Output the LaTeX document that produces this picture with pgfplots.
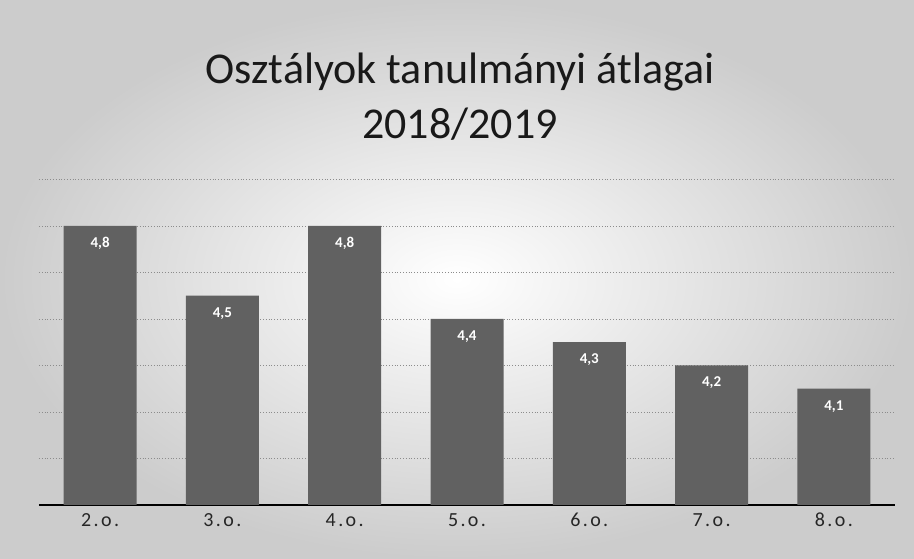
\documentclass[border=0pt]{standalone}
\usepackage{pgfplots}
\pgfplotsset{compat=1.18}
\usepackage{fontspec}
\setmainfont{Carlito}
\begin{document}
\begin{tikzpicture}[x=1pt,y=1pt]
\shade[inner color=white, outer color=black!20] (0,0) rectangle (914,559);
\begin{axis}[
  at={(39pt,54pt)}, anchor=south west,
  scale only axis, width=856pt, height=325.5pt,
  ymin=3.6, ymax=5.0, xmin=-0.5, xmax=6.5,
  ybar, bar width=73pt,
  xtick=data,
  xticklabels={2.o.,3.o.,4.o.,5.o.,6.o.,7.o.,8.o.},
  ytick={3.6,3.8,4.0,4.2,4.4,4.6,4.8,5.0},
  yticklabels={},
  ymajorgrids, grid style={black!45, line width=0.8pt, dotted},
  major tick length=0pt,
  axis x line*=bottom, axis y line*=left,
  y axis line style={draw=none},
  x axis line style={black, line width=2pt},
  ticklabel style={font=\fontsize{20}{22}\selectfont\addfontfeature{LetterSpace=12}, text=black!85},
  xticklabel style={yshift=-4pt, text height=14pt},
  nodes near coords,
  nodes near coords style={white, anchor=north, yshift=-8pt, font=\fontsize{15}{17}\selectfont\bfseries,
    /pgf/number format/.cd, fixed, fixed zerofill, precision=1, use comma, assume math mode=true},
  clip=false,
]
\addplot[fill=black!62, draw=none] coordinates {(0,4.8) (1,4.5) (2,4.8) (3,4.4) (4,4.3) (5,4.2) (6,4.1)};
\end{axis}
\node[align=center, font=\fontsize{44}{55}\selectfont, text=black!90] at (460,462) {Osztályok tanulmányi átlagai\\2018/2019};
\pgfresetboundingbox
\useasboundingbox (0,0) rectangle (914,559);
\end{tikzpicture}
\end{document}
